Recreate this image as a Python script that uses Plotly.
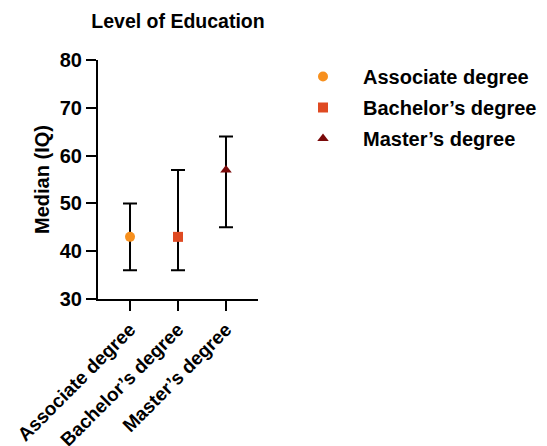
import plotly.graph_objects as go

categories = ["Associate degree", "Bachelor\u2019s degree", "Master\u2019s degree"]
medians = [43, 43, 57]
q_low = [36, 36, 45]
q_high = [50, 57, 64]
colors = ["#F7901E", "#DF4A22", "#7A0A0A"]
symbols = ["circle", "square", "triangle-up"]
y_ticks = [30, 40, 50, 60, 70, 80]

FONT = "Liberation Sans, Arial, sans-serif"

fig = go.Figure()
for i, cat in enumerate(categories):
    fig.add_trace(go.Scatter(
        x=[cat], y=[medians[i]], mode="markers", name=cat, legendgroup=cat,
        marker=dict(color=colors[i], symbol=symbols[i], size=10, line=dict(width=0)),
        error_y=dict(type="data", symmetric=False,
                     array=[q_high[i] - medians[i]],
                     arrayminus=[medians[i] - q_low[i]],
                     color="black", thickness=2, width=7),
    ))

fig.update_layout(
    width=547, height=446,
    margin=dict(l=98, r=289, t=60, b=147, autoexpand=False),
    plot_bgcolor="white", paper_bgcolor="white",
    font=dict(family=FONT, color="black", size=20),
    title=dict(text="<b>Level of Education</b>", x=(178/547), xanchor="center",
               y=1 - 21/446, yanchor="middle", yref="container",
               font=dict(size=19.5, family=FONT, color="black")),
    showlegend=True,
    legend=dict(xref="container", yref="container", x=283/547, xanchor="left",
                y=1 - 57/446, yanchor="top",
                font=dict(size=20, family=FONT, color="black", weight="bold"),
                itemwidth=70, tracegroupgap=2, bgcolor="rgba(0,0,0,0)"),
    xaxis=dict(type="category", range=[-0.667, 2.667], showgrid=False, zeroline=False,
               automargin=False,
               showline=True, linecolor="black", linewidth=2,
               ticks="outside", ticklen=10, tickwidth=2, tickcolor="black",
               tickangle=-45, tickfont=dict(size=19, family=FONT, color="black", weight="bold")),
    yaxis=dict(range=[30, 80], tickvals=y_ticks, showgrid=False, zeroline=False,
               automargin=False,
               showline=True, linecolor="black", linewidth=2,
               ticks="outside", ticklen=10, tickwidth=2, tickcolor="black",
               tickfont=dict(size=20, family=FONT, color="black", weight="bold"),
               title=dict(text="<b>Median (IQ)</b>", standoff=5,
                          font=dict(size=20, family=FONT, color="black"))),
)

fig.write_html("out.html", config={"displayModeBar": False},
               post_script="document.body.style.margin='0';")
